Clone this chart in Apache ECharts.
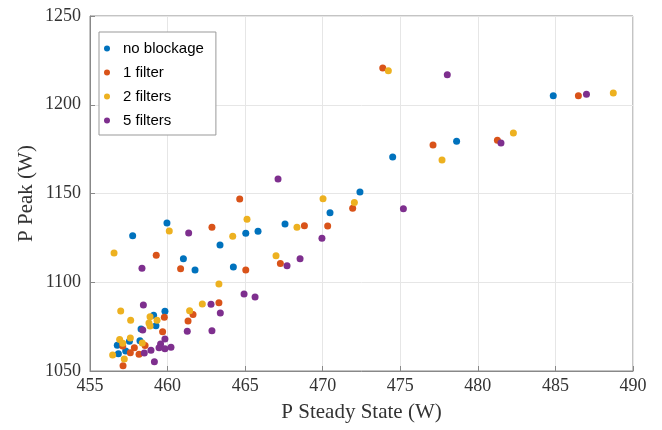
<!DOCTYPE html>
<html>
<head>
<meta charset="utf-8">
<script src="https://cdn.jsdelivr.net/npm/echarts@6/dist/echarts.min.js"></script>
<style>html,body{margin:0;padding:0;background:#fff}#c{width:662px;height:430px}</style>
</head>
<body>
<div id="c"></div>
<script>
const seriesNames = ['no blockage', '1 filter', '2 filters', '5 filters'];
const colors = ['#0072BD', '#D95319', '#EDB120', '#7E2F8E'];
const xTitle = 'P Steady State (W)';
const yTitle = 'P Peak (W)';

const noBlockage = [
  [484.86,1205.1],[474.51,1170.6],[478.63,1179.4],[472.40,1150.8],[470.47,1139.2],
  [467.57,1132.8],[459.96,1133.4],[457.75,1126.2],[463.38,1121.0],[465.04,1127.6],
  [465.83,1128.7],[461.02,1113.3],[461.77,1106.9],[464.24,1108.6],[459.83,1083.6],
  [459.10,1081.4],[459.25,1075.5],[458.29,1073.7],[458.22,1067.1],[457.54,1066.7],
  [456.76,1064.5],[457.30,1061.3],[456.83,1059.7]
];
const oneFilter = [
  [473.87,1220.7],[486.48,1205.1],[477.11,1177.3],[481.26,1180.0],[471.93,1141.7],
  [468.82,1131.9],[470.32,1131.7],[464.65,1146.9],[462.86,1131.0],[459.27,1115.2],
  [467.27,1110.5],[460.84,1107.6],[465.04,1106.9],[463.31,1088.5],[461.64,1081.9],
  [461.32,1078.2],[459.79,1080.3],[459.68,1072.1],[458.55,1064.3],[458.16,1059.4],
  [457.86,1063.1],[457.60,1060.3],[457.11,1064.1],[457.13,1053.0]
];
const twoFilters = [
  [474.23,1219.2],[488.73,1206.6],[477.69,1168.9],[482.29,1184.1],[470.02,1147.1],
  [472.04,1145.0],[468.34,1131.0],[465.12,1135.5],[460.11,1128.9],[464.20,1125.9],
  [456.55,1116.5],[466.99,1115.0],[463.31,1099.0],[462.24,1087.7],[461.42,1084.0],
  [456.98,1083.8],[457.62,1078.6],[458.87,1080.6],[459.32,1078.6],[458.80,1077.0],
  [458.87,1075.4],[458.37,1065.8],[457.60,1068.6],[456.91,1067.8],[457.11,1065.6],
  [456.46,1059.0],[457.21,1056.8]
];
const fiveFilters = [
  [478.03,1216.9],[487.00,1205.9],[481.49,1178.5],[475.20,1141.4],[469.95,1124.8],
  [468.54,1113.3],[467.12,1158.2],[461.36,1127.7],[467.70,1109.3],[458.35,1107.9],
  [464.93,1093.4],[465.64,1091.7],[462.80,1087.6],[463.40,1082.7],[461.27,1072.4],
  [462.86,1072.7],[458.44,1087.2],[458.40,1073.1],[459.83,1068.0],[459.55,1065.2],
  [459.45,1063.1],[459.83,1062.6],[460.22,1063.4],[458.93,1061.7],[459.15,1055.2],
  [458.50,1060.1]
];
const allData = [noBlockage, oneFilter, twoFilters, fiveFilters];

const serif = 'Liberation Serif';
const chart = echarts.init(document.getElementById('c'), null, {renderer: 'canvas'});
chart.setOption({
  animation: false,
  color: colors,
  grid: {left: 90, right: 29, top: 16, bottom: 59, show: true, borderColor: '#888', borderWidth: 1, backgroundColor: '#fff'},
  legend: {
    orient: 'vertical', left: 99, top: 32,
    padding: [9, 12, 7, 5], itemGap: 9, itemWidth: 22, itemHeight: 6,
    icon: 'circle',
    backgroundColor: '#fff', borderColor: '#999', borderWidth: 1, borderRadius: 0,
    textStyle: {fontFamily: 'Liberation Sans', fontSize: 15, color: '#000', lineHeight: 14},
    data: seriesNames
  },
  xAxis: {
    type: 'value', min: 455, max: 490, interval: 5,
    name: xTitle, nameLocation: 'middle', nameGap: 31,
    nameTextStyle: {fontFamily: serif, fontSize: 21, color: '#333'},
    axisLine: {show: true, lineStyle: {color: '#888'}},
    axisTick: {show: true, inside: true, length: 5, lineStyle: {color: '#888'}},
    axisLabel: {fontFamily: serif, fontSize: 18, color: '#333', margin: 6, formatter: v => String(v)},
    splitLine: {show: true, lineStyle: {color: '#e6e6e6'}}
  },
  yAxis: {
    type: 'value', min: 1050, max: 1250, interval: 50,
    name: yTitle, nameLocation: 'middle', nameGap: 53, nameMoveOverlap: false,
    nameTextStyle: {fontFamily: serif, fontSize: 21, color: '#333'},
    axisLine: {show: true, lineStyle: {color: '#888'}},
    axisTick: {show: true, inside: true, length: 5, lineStyle: {color: '#888'}},
    axisLabel: {fontFamily: serif, fontSize: 18, color: '#333', margin: 9, formatter: v => String(v)},
    splitLine: {show: true, lineStyle: {color: '#e6e6e6'}}
  },
  series: seriesNames.map((n, i) => ({
    name: n, type: 'scatter', data: allData[i], symbolSize: 7,
    itemStyle: {color: colors[i], opacity: 1}
  }))
});
</script>
</body>
</html>
